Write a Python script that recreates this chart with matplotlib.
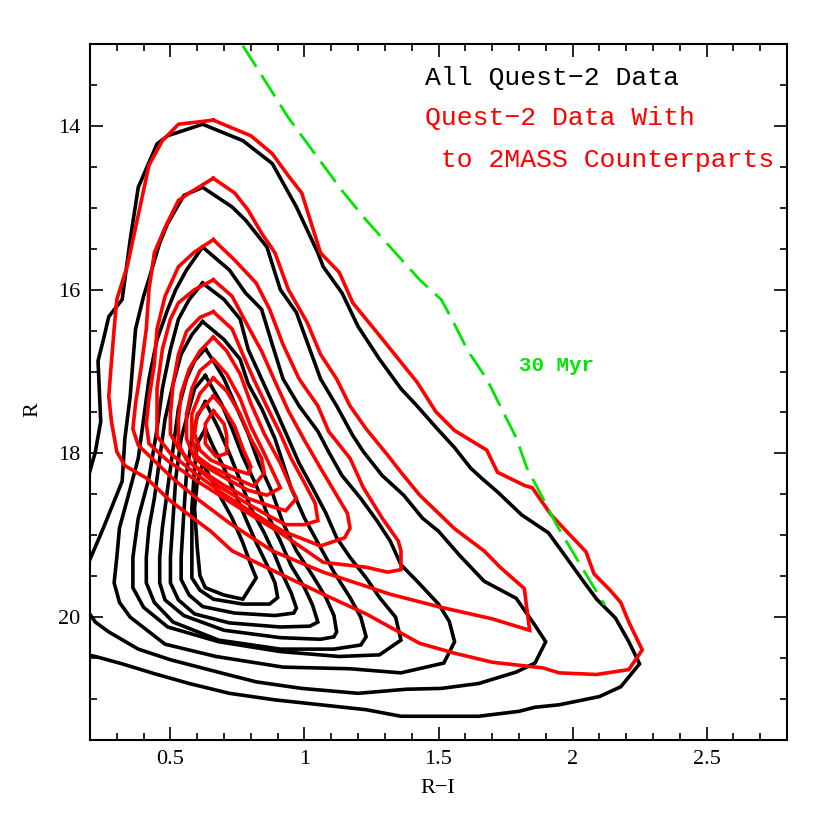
import matplotlib
matplotlib.use("Agg")
import matplotlib.pyplot as plt
from matplotlib.ticker import MultipleLocator, FuncFormatter

# ---------------- data (R-I, R) ----------------
# Black contours: all Quest-2 data (outer -> inner)
B1 = [(0.19,20.46),(0.22,20.48),(0.32,20.57),(0.44,20.69),(0.57,20.81),(0.72,20.93),(0.89,21.01),
      (1.06,21.07),(1.23,21.13),(1.36,21.21),(1.51,21.21),(1.65,21.21),(1.80,21.15),(1.86,21.10),
      (1.95,21.07),(2.10,20.97),(2.18,20.85),(2.25,20.57),(2.21,20.30),(2.16,20.01),(2.09,19.78),
      (2.04,19.56),(1.97,19.24),(1.91,18.97),(1.81,18.75),(1.72,18.47),(1.66,18.30),(1.62,18.18),
      (1.56,17.93),(1.49,17.68),(1.42,17.42),(1.36,17.21),(1.28,16.85),(1.20,16.45),(1.14,16.04),
      (1.07,15.72),(1.05,15.55),(0.97,14.99),(0.88,14.46),(0.77,14.18),(0.62,13.98),(0.49,14.12),
      (0.45,14.22),(0.38,14.75),(0.35,15.39),(0.32,16.12),(0.27,16.33),(0.25,16.61),(0.23,16.87),
      (0.24,17.61),(0.22,17.98),(0.19,18.33)]
B2 = [(0.19,19.92),(0.22,20.06),(0.27,20.18),(0.38,20.39),(0.50,20.52),(0.70,20.69),(0.82,20.79),
      (0.99,20.87),(1.20,20.93),(1.38,20.88),(1.51,20.87),(1.65,20.81),(1.79,20.67),(1.86,20.56),
      (1.90,20.30),(1.86,20.10),(1.79,19.77),(1.67,19.56),(1.58,19.25),(1.50,18.95),(1.44,18.79),
      (1.37,18.51),(1.29,18.27),(1.22,17.98),(1.18,17.78),(1.12,17.42),(1.06,17.09),(1.02,16.73),
      (0.97,16.28),(0.91,16.00),(0.86,15.48),(0.78,15.15),(0.73,14.99),(0.62,14.75),(0.55,14.85),
      (0.49,15.19),(0.46,15.43),(0.43,15.76),(0.40,16.08),(0.37,16.48),(0.36,16.88),(0.35,17.30),
      (0.33,17.82),(0.32,18.34),(0.25,18.91),(0.19,19.37)]
B3 = [(0.62,15.48),(0.56,15.76),(0.52,16.00),(0.49,16.24),(0.45,16.61),(0.42,17.09),(0.40,17.58),
      (0.38,18.06),(0.34,18.55),(0.31,18.91),(0.30,19.27),(0.29,19.58),(0.31,19.82),(0.35,20.00),
      (0.48,20.33),(0.67,20.48),(0.92,20.61),(1.17,20.63),(1.36,20.68),(1.52,20.56),(1.56,20.30),
      (1.54,20.05),(1.50,19.84),(1.42,19.56),(1.36,19.36),(1.32,19.07),(1.27,18.82),(1.21,18.55),
      (1.14,18.27),(1.09,17.98),(1.05,17.73),(0.98,17.42),(0.92,17.09),(0.88,16.67),(0.84,16.24),
      (0.78,16.04),(0.72,15.76),(0.62,15.48)]
B4 = [(0.62,15.92),(0.57,16.12),(0.53,16.36),(0.50,16.73),(0.47,17.21),(0.45,17.70),(0.42,18.30),
      (0.38,18.79),(0.36,19.27),(0.36,19.64),(0.40,19.88),(0.49,20.12),(0.68,20.30),(0.91,20.42),
      (1.13,20.48),(1.28,20.46),(1.36,20.28),(1.34,20.00),(1.28,19.76),(1.23,19.52),(1.17,19.27),
      (1.12,19.03),(1.08,18.73),(1.03,18.42),(0.98,18.12),(0.94,17.82),(0.89,17.45),(0.84,17.09),
      (0.79,16.73),(0.76,16.36),(0.70,16.12),(0.62,15.92)]
B5 = [(0.62,16.39),(0.58,16.55),(0.54,16.79),(0.51,17.15),(0.48,17.58),(0.46,18.06),(0.44,18.55),
      (0.42,18.91),(0.41,19.27),(0.41,19.58),(0.44,19.82),(0.51,20.06),(0.68,20.28),(0.91,20.39),
      (1.11,20.39),(1.21,20.34),(1.23,20.24),(1.21,20.00),(1.17,19.76),(1.11,19.45),(1.06,19.15),
      (1.00,18.79),(0.95,18.42),(0.92,18.12),(0.89,17.82),(0.84,17.45),(0.79,17.15),(0.76,16.85),
      (0.70,16.61),(0.62,16.39)]
B6 = [(0.63,16.72),(0.59,16.87),(0.56,17.09),(0.53,17.45),(0.51,17.94),(0.49,18.42),(0.47,18.91),
      (0.46,19.27),(0.46,19.58),(0.48,19.79),(0.55,19.98),(0.70,20.16),(0.91,20.25),(1.06,20.27),
      (1.11,20.24),(1.12,20.18),(1.11,19.98),(1.08,19.76),(1.03,19.49),(0.97,19.19),(0.92,18.85),
      (0.88,18.48),(0.83,18.12),(0.79,17.76),(0.74,17.39),(0.70,17.09),(0.66,16.87),(0.63,16.72)]
B7 = [(0.63,17.05),(0.59,17.21),(0.57,17.45),(0.54,17.82),(0.52,18.30),(0.51,18.79),(0.50,19.27),
      (0.50,19.58),(0.53,19.79),(0.59,19.96),(0.72,20.07),(0.91,20.12),(1.02,20.11),(1.05,20.06),
      (1.03,19.85),(1.00,19.64),(0.95,19.37),(0.91,19.07),(0.86,18.73),(0.82,18.39),(0.77,18.04),
      (0.73,17.70),(0.69,17.39),(0.63,17.05)]
B8 = [(0.63,17.37),(0.60,17.55),(0.58,17.82),(0.56,18.24),(0.55,18.73),(0.54,19.27),(0.54,19.54),
      (0.57,19.73),(0.62,19.87),(0.74,19.95),(0.89,19.98),(0.96,19.95),(0.97,19.89),(0.95,19.70),
      (0.92,19.49),(0.89,19.25),(0.85,18.97),(0.80,18.67),(0.76,18.33),(0.72,18.00),(0.68,17.70),
      (0.63,17.37)]
B9 = [(0.63,17.70),(0.60,17.88),(0.59,18.18),(0.58,18.67),(0.58,19.27),(0.58,19.52),(0.61,19.67),
      (0.66,19.78),(0.77,19.84),(0.87,19.84),(0.90,19.76),(0.89,19.58),(0.86,19.36),(0.82,19.09),
      (0.78,18.79),(0.74,18.48),(0.70,18.18),(0.66,17.92),(0.63,17.70)]
B10 = [(0.62,18.12),(0.60,18.36),(0.59,18.67),(0.60,19.15),(0.61,19.49),(0.63,19.64),(0.70,19.73),
       (0.77,19.78),(0.82,19.52),(0.80,19.36),(0.77,19.09),(0.73,18.79),(0.69,18.55),(0.65,18.30),
       (0.62,18.12)]

# Red contours: Quest-2 data with 2MASS counterparts (outer -> inner)
R1 = [(0.66,13.93),(0.53,13.98),(0.47,14.18),(0.42,14.48),(0.38,15.09),(0.34,15.70),(0.30,16.12),
      (0.29,16.48),(0.28,16.88),(0.27,17.30),(0.28,17.61),(0.30,17.98),(0.33,18.15),(0.41,18.30),
      (0.50,18.58),(0.65,18.95),(0.73,19.19),(0.94,19.52),(1.07,19.72),(1.23,19.96),(1.43,20.32),
      (1.56,20.44),(1.70,20.55),(1.89,20.62),(1.95,20.68),(2.09,20.70),(2.21,20.64),(2.26,20.40),
      (2.21,20.06),(2.18,19.82),(2.14,19.67),(2.08,19.47),(2.05,19.20),(1.98,18.96),(1.92,18.75),
      (1.85,18.42),(1.82,18.39),(1.72,18.23),(1.68,17.96),(1.56,17.72),(1.49,17.49),(1.42,17.13),
      (1.27,16.52),(1.18,16.16),(1.13,15.79),(1.06,15.55),(1.03,15.24),(0.99,14.82),(0.94,14.61),
      (0.88,14.34),(0.80,14.12),(0.66,13.93)]
R2 = [(0.66,14.64),(0.57,14.82),(0.53,14.91),(0.48,15.24),(0.44,15.55),(0.42,16.00),(0.41,16.48),
      (0.39,16.97),(0.37,17.39),(0.36,17.70),(0.38,17.90),(0.44,18.09),(0.51,18.31),(0.61,18.58),
      (0.72,18.85),(0.88,19.19),(1.07,19.45),(1.32,19.72),(1.51,19.88),(1.70,20.02),(1.84,20.16),
      (1.82,19.65),(1.73,19.39),(1.67,19.19),(1.56,18.92),(1.43,18.51),(1.36,18.23),(1.31,18.02),
      (1.23,17.70),(1.17,17.42),(1.12,17.09),(1.06,16.79),(1.01,16.40),(0.94,16.00),(0.89,15.55),
      (0.84,15.31),(0.79,15.03),(0.74,14.82),(0.66,14.64)]
R3 = [(0.66,15.39),(0.59,15.54),(0.53,15.72),(0.48,16.08),(0.45,16.48),(0.44,16.91),(0.42,17.33),
      (0.41,17.64),(0.42,17.88),(0.49,18.09),(0.61,18.36),(0.76,18.67),(0.91,18.97),(1.07,19.33),
      (1.23,19.39),(1.31,19.45),(1.36,19.42),(1.36,19.19),(1.35,19.07),(1.29,18.79),(1.22,18.42),
      (1.17,18.06),(1.09,17.73),(1.05,17.42),(0.98,17.09),(0.92,16.67),(0.87,16.24),(0.82,15.92),
      (0.74,15.64),(0.66,15.39)]
R4 = [(0.66,15.88),(0.59,16.00),(0.53,16.16),(0.50,16.36),(0.47,16.73),(0.45,17.21),(0.45,17.58),
      (0.45,17.79),(0.50,18.00),(0.59,18.24),(0.70,18.50),(0.81,18.73),(0.92,18.95),(1.06,19.13),
      (1.15,19.03),(1.17,18.91),(1.16,18.73),(1.12,18.51),(1.06,18.18),(1.00,17.84),(0.94,17.48),
      (0.89,17.12),(0.84,16.75),(0.78,16.39),(0.73,16.08),(0.66,15.88)]
R5 = [(0.66,16.27),(0.61,16.34),(0.56,16.51),(0.53,16.79),(0.51,17.15),(0.50,17.52),(0.50,17.76),
      (0.53,17.94),(0.59,18.16),(0.68,18.40),(0.77,18.58),(0.86,18.75),(0.93,18.87),(1.00,18.87),
      (1.05,18.82),(1.04,18.61),(1.00,18.36),(0.95,18.06),(0.91,17.76),(0.86,17.43),(0.81,17.09),
      (0.77,16.79),(0.73,16.48),(0.66,16.27)]
R6 = [(0.66,16.58),(0.71,16.75),(0.76,17.03),(0.80,17.39),(0.85,17.76),(0.91,18.12),(0.95,18.42),
      (0.97,18.55),(0.93,18.70),(0.87,18.64),(0.79,18.55),(0.70,18.39),(0.62,18.22),(0.56,18.08),
      (0.53,17.88),(0.53,17.58),(0.54,17.27),(0.57,16.97),(0.61,16.75),(0.66,16.58)]
R7 = [(0.66,16.85),(0.71,17.03),(0.76,17.33),(0.80,17.67),(0.85,18.00),(0.89,18.28),(0.91,18.42),
      (0.86,18.51),(0.79,18.45),(0.72,18.33),(0.64,18.18),(0.59,18.06),(0.56,17.82),(0.56,17.52),
      (0.58,17.21),(0.61,16.99),(0.66,16.85)]
R8 = [(0.66,17.08),(0.71,17.24),(0.76,17.52),(0.80,17.82),(0.84,18.06),(0.85,18.24),(0.81,18.40),
      (0.74,18.30),(0.65,18.16),(0.60,18.04),(0.58,17.82),(0.58,17.52),(0.61,17.27),(0.66,17.08)]
R9 = [(0.66,17.30),(0.70,17.45),(0.74,17.67),(0.77,17.94),(0.80,18.16),(0.79,18.25),(0.72,18.18),
      (0.65,18.08),(0.61,17.96),(0.59,17.76),(0.60,17.52),(0.66,17.30)]
R10 = [(0.66,17.48),(0.70,17.64),(0.71,17.78),(0.71,18.00),(0.67,18.04),(0.63,17.88),(0.63,17.64),
       (0.66,17.48)]

# 30 Myr isochrone
iso_ri = [0.77, 0.83, 0.94, 1.05, 1.14, 1.23, 1.32, 1.43, 1.51, 1.55, 1.61, 1.68, 1.73, 1.79,
          1.83, 1.89, 1.94, 2.00, 2.06, 2.12]
iso_r = [13.02, 13.33, 13.90, 14.39, 14.79, 15.15, 15.48, 15.88, 16.12, 16.36, 16.75, 17.09,
         17.42, 17.81, 18.18, 18.55, 18.87, 19.20, 19.53, 19.85]

black_levels = [B1, B2, B3, B4, B5, B6, B7, B8, B9, B10]
red_levels = [R1, R2, R3, R4, R5, R6, R7, R8, R9, R10]

xticks_major = [0.5, 1, 1.5, 2, 2.5]
yticks_major = [14, 16, 18, 20]

# ---------------- figure ----------------
fig = plt.figure(figsize=(8.3, 8.3), dpi=100)
ax = fig.add_axes([90/830, 1-740/830, 697/830, 696/830])

lw = 2.6
for c in black_levels:
    xs, ys = zip(*c)
    ax.plot(xs, ys, color='black', lw=lw, solid_joinstyle='miter', zorder=2)
for c in red_levels:
    xs, ys = zip(*c)
    ax.plot(xs, ys, color='#ff0000', lw=lw, solid_joinstyle='miter', zorder=3)

ax.plot(iso_ri, iso_r, color='#00e600', lw=2.0, dashes=(9, 3.6), zorder=4)

ax.set_xlim(0.2, 2.8)
ax.set_ylim(21.5, 13)

ax.set_xticks(xticks_major)
ax.set_yticks(yticks_major)
ax.xaxis.set_minor_locator(MultipleLocator(0.1))
ax.yaxis.set_minor_locator(MultipleLocator(0.5))
ax.xaxis.set_major_formatter(FuncFormatter(lambda v, p: '%g' % v))
ax.tick_params(which='both', direction='in', top=True, right=True, width=1.2,
               labelsize=16, pad=7)
ax.tick_params(which='major', length=9.5)
ax.tick_params(which='minor', length=5)
for lab in ax.get_xticklabels() + ax.get_yticklabels():
    lab.set_fontfamily('Liberation Serif')
for s in ax.spines.values():
    s.set_linewidth(1.5)

fig.text(438/830, 1-788/830, 'R\u2212I', ha='center', va='center', fontsize=16,
         family='Liberation Serif')
fig.text(33/830, 1-410/830, 'R', ha='center', va='center', rotation=90, fontsize=16,
         family='Liberation Serif')

mono = 'Liberation Mono'
ax.text(0.4806, 0.951, 'All Quest\u22122 Data', transform=ax.transAxes, ha='left', va='center',
        fontsize=19, family=[mono, 'DejaVu Sans Mono'], color='black')
ax.text(0.4806, 0.894, 'Quest\u22122 Data With', transform=ax.transAxes, ha='left', va='center',
        fontsize=19, family=[mono, 'DejaVu Sans Mono'], color='#ff0000')
ax.text(0.4806, 0.833, ' to 2MASS Counterparts', transform=ax.transAxes, ha='left', va='center',
        fontsize=19, family=[mono, 'DejaVu Sans Mono'], color='#ff0000')
ax.text(1.80, 16.93, '30 Myr', ha='left', va='center', fontsize=15, fontweight='bold',
        family=[mono, 'DejaVu Sans Mono'], color='#00e600')

fig.savefig('out.png', dpi=100, facecolor='white')
